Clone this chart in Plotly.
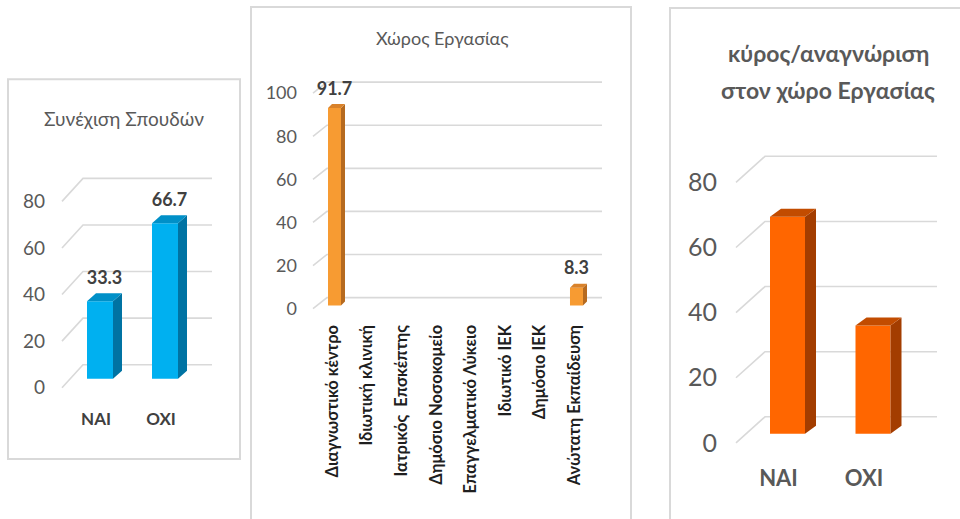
import plotly.graph_objects as go

# ---------------- data ----------------
study_cats = ["ΝΑΙ", "ΌΧΙ"]
study_vals = [33.3, 66.7]
study_ticks = [0, 20, 40, 60, 80]

work_cats = ["Διαγνωστικό κέντρο", "Ιδιωτική κλινική", "Ιατρικός  Επσκέπτης",
             "Δημόσιο Νοσοκομείο", "Επαγγελματικό Λύκειο", "Ιδιωτικό ΙΕΚ",
             "Δημόσιο ΙΕΚ", "Ανώτατη Εκπαίδευση"]
work_vals = [91.7, 0, 0, 0, 0, 0, 0, 8.3]
work_ticks = [0, 20, 40, 60, 80, 100]

prestige_cats = ["ΝΑΙ", "ΟΧΙ"]
prestige_vals = [66.7, 33.3]
prestige_ticks = [0, 20, 40, 60, 80]

# ---------------- geometry / style ----------------
W = 960
H_REF = 519          # layout designed in 960x519 pixel space
H = 528              # page height (captured page is fitted to 519)
SY = H / H_REF       # vertical layout factor

FONT = "Lato"
GRID = "#D9D9D9"

fig = go.Figure()
layout_axes = {}
shapes = []


def add_panel(n, cats, vals, ticks, g):
    xa = "x" if n == 1 else f"x{n}"
    ya = "y" if n == 1 else f"y{n}"
    step = g["step"]
    sc = g["scale"] * SY
    y0 = g["y0"] * SY

    def ux(px):
        return (px - g["xc0"]) / step

    def uy(py):
        return (y0 - py * SY) / sc

    def du(d):
        return d * SY / sc

    pos = list(range(len(cats)))

    # 3D-style back-wall gridlines (axis-referenced shapes below the bars)
    off = du(g["g_dy"])
    for t in ticks:
        path = (f"M {ux(g['gx_front'])},{t} L {ux(g['gx_back'])},{t + off} "
                f"L {ux(g['gx_right'])},{t + off}")
        shapes.append(dict(type="path", path=path, xref=xa, yref=ya, layer="below",
                           line=dict(color=GRID, width=1.6)))

    base = du(g["base"])
    w = g["bw"] / step
    dxu = g["dx"] / step
    dyu = du(g["dy"])

    # front faces
    fig.add_trace(go.Bar(x=pos, y=vals, base=[base] * len(vals), width=w,
                         marker=dict(color=g["front"], line=dict(width=0)),
                         showlegend=False, xaxis=xa, yaxis=ya, hoverinfo="skip"))

    # side and top faces
    sx, sy, tx, ty = [], [], [], []
    for p, v in zip(pos, vals):
        if v <= 0:
            continue
        xl, xr = p - w / 2, p + w / 2
        b, top = base, base + v
        sx += [xr, xr + dxu, xr + dxu, xr, xr, None]
        sy += [b, b + dyu, top + dyu, top, b, None]
        tx += [xl, xl + dxu, xr + dxu, xr, xl, None]
        ty += [top, top + dyu, top + dyu, top, top, None]
    fig.add_trace(go.Scatter(x=sx, y=sy, mode="lines", fill="toself", fillcolor=g["side"],
                             line=dict(width=0, color=g["side"]), hoverinfo="skip",
                             showlegend=False, xaxis=xa, yaxis=ya))
    fig.add_trace(go.Scatter(x=tx, y=ty, mode="lines", fill="toself", fillcolor=g["topc"],
                             line=dict(width=0, color=g["topc"]), hoverinfo="skip",
                             showlegend=False, xaxis=xa, yaxis=ya))

    # data labels
    if g.get("labels"):
        lx, lyv, lt = [], [], []
        for p, v in zip(pos, vals):
            if v <= 0:
                continue
            lx.append(p + dxu * g["lab_dx"])
            lyv.append(base + v + dyu + du(g["lab_off"]))
            lt.append(f"{v:.1f}")
        fig.add_trace(go.Scatter(x=lx, y=lyv, mode="text", text=lt, textposition="middle center",
                                 textfont=dict(family=FONT, size=g["lab_size"], color="#404040",
                                               weight="bold"),
                                 cliponaxis=False, hoverinfo="skip", showlegend=False,
                                 xaxis=xa, yaxis=ya))

    L, R, T, B = g["box"]
    layout_axes["xaxis" if n == 1 else f"xaxis{n}"] = dict(
        domain=[L / W, R / W], range=[ux(L), ux(R)], tickvals=pos, ticktext=cats,
        showgrid=False, zeroline=False, showline=False, ticks="", anchor=ya,
        tickangle=g.get("xangle", 0), tickfont=g["xfont"],
        ticklabelstandoff=g["xstand"], ticklabelshift=g["xshift"], fixedrange=True)
    layout_axes["yaxis" if n == 1 else f"yaxis{n}"] = dict(
        domain=[1 - B / H_REF, 1 - T / H_REF], range=[uy(B), uy(T)], tickvals=ticks,
        showgrid=False, zeroline=False, showline=False, ticks="", anchor=xa,
        tickfont=g["yfont"], ticklabelstandoff=g["ystand"], fixedrange=True)


add_panel(1, study_cats, study_vals, study_ticks, dict(
    xc0=100, step=65, y0=387, scale=2.325,
    gx_front=62, gx_back=83, gx_right=212, g_dy=23,
    base=9, bw=26, dx=9, dy=8,
    front="#00B0F0", side="#0073A3", topc="#0090C8",
    labels=True, lab_dx=0.5, lab_off=14, lab_size=18,
    box=(56, 222, 150, 394),
    xfont=dict(family=FONT, size=17, color="#404040", weight="bold"), xstand=12, xshift=-4,
    yfont=dict(family=FONT, size=19, color="#595959"), ystand=10))

add_panel(2, work_cats, work_vals, work_ticks, dict(
    xc0=334.5, step=34.57, y0=308, scale=2.15,
    gx_front=313, gx_back=327, gx_right=602, g_dy=11,
    base=3, bw=13, dx=4, dy=4,
    front="#F79B32", side="#B66A1F", topc="#D9822A",
    labels=True, lab_dx=0.0, lab_off=14, lab_size=18,
    box=(306, 612, 60, 312),
    xfont=dict(family=FONT, size=16.5, color="#1F1F1F", weight="bold"), xstand=8, xshift=-2,
    xangle=-90,
    yfont=dict(family=FONT, size=18, color="#595959"), ystand=8))

add_panel(3, prestige_cats, prestige_vals, prestige_ticks, dict(
    xc0=787.5, step=85.5, y0=442, scale=3.25,
    gx_front=736, gx_back=765, gx_right=937, g_dy=26,
    base=9, bw=35, dx=11, dy=8,
    front="#FF6600", side="#A33D00", topc="#C24C00",
    labels=False,
    box=(730, 945, 140, 448),
    xfont=dict(family=FONT, size=22, color="#595959", weight="bold"), xstand=14, xshift=-9,
    yfont=dict(family=FONT, size=25, color="#595959"), ystand=12))

# panel frames
frames = [(8, 79, 240, 458), (251, 7, 631, 540), (670, 8, 980, 540)]
shapes += [dict(type="rect", xref="paper", yref="paper",
                x0=x0 / W, x1=x1 / W, y0=1 - y1 / H_REF, y1=1 - y0 / H_REF,
                line=dict(color="#D9D9D9", width=2), fillcolor="rgba(0,0,0,0)", layer="below")
           for x0, y0, x1, y1 in frames]

titles = [
    ("Συνέχιση Σπουδών", 124, 118, 19, "normal"),
    ("Χώρος Εργασίας", 442, 38, 18, "normal"),
    ("κύρος/αναγνώριση", 828, 53, 23, "bold"),
    ("στον χώρο Εργασίας", 828, 90, 23, "bold"),
]
annotations = [dict(text=t, x=x / W, y=1 - y / H_REF, xref="paper", yref="paper",
                    xanchor="center", yanchor="middle", showarrow=False,
                    font=dict(family=FONT, size=s, color="#595959", weight=wt))
               for t, x, y, s, wt in titles]

fig.update_layout(
    width=W, height=H, autosize=False,
    margin=dict(l=0, r=0, t=0, b=0),
    paper_bgcolor="white", plot_bgcolor="rgba(0,0,0,0)",
    showlegend=False, barmode="overlay",
    shapes=shapes, annotations=annotations,
    font=dict(family=FONT),
    **layout_axes,
)

fig.write_html(
    "out.html", config={"displayModeBar": False},
    post_script=("var b=document.body;b.style.margin='0';b.style.padding='0';"
                 "b.style.overflow='hidden';"))
